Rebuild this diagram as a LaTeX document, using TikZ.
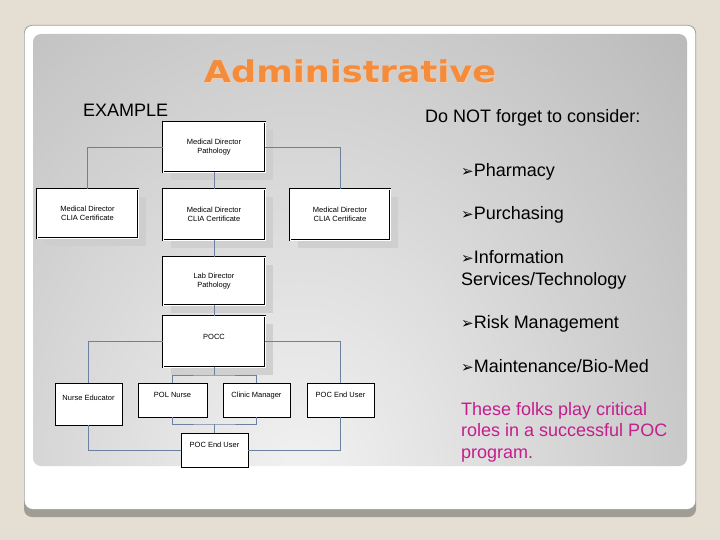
\documentclass[tikz,border=0pt]{standalone}
\usepackage{fontspec}
\setmainfont{Liberation Sans}
\newfontfamily\symfont{DejaVu Sans}
\newfontfamily\headfont{DejaVu Sans}
\usetikzlibrary{shadows}

\definecolor{slidebg}{RGB}{228,222,211}
\definecolor{cardedge}{RGB}{160,157,150}
\definecolor{panellight}{RGB}{242,242,242}
\definecolor{paneldark}{RGB}{165,165,165}
\definecolor{headorange}{RGB}{245,140,60}
\definecolor{linkblue}{RGB}{110,128,160}
\definecolor{boxshadow}{RGB}{206,206,206}
\definecolor{notemagenta}{RGB}{195,30,140}

\newcommand{\pointer}{{\symfont\fontsize{15}{15}\selectfont ➢}}

\tikzset{
  chartbox/.style={draw=black, double=white, double distance=0.9pt, line width=0.6pt,
    fill=white, align=center, font=\fontsize{7.5}{9}\selectfont,
    minimum width=102pt, minimum height=50pt, inner sep=0pt,
    drop shadow={shadow xshift=8pt, shadow yshift=-8pt, fill=boxshadow, opacity=0.9}},
  rolebox/.style={draw=black, line width=0.6pt, fill=white, font=\fontsize{7.5}{9}\selectfont,
    minimum width=67pt, inner sep=0pt, text height=14.7pt, text depth=19.3pt},
  link/.style={draw=linkblue, line width=0.8pt},
  bodytext/.style={anchor=base west, font=\fontsize{18}{21.5}\selectfont, align=left, inner sep=0pt},
}

\begin{document}
\begin{tikzpicture}[x=1pt, y=-1pt]
  \useasboundingbox (0,0) rectangle (720,540);
  \fill[slidebg] (0,0) rectangle (720,540);

  % slide card and shaded panel
  \fill[cardedge, rounded corners=8] (24,25) rectangle (696,517);
  \fill[white, rounded corners=8] (24.7,25.7) rectangle (695.3,509);
  \begin{scope}
    \clip[rounded corners=8] (33,34) rectangle (687,466);
    \shade[inner color=panellight, outer color=paneldark] (300,480) ellipse (720 and 920);
  \end{scope}

  % heading
  \node[font=\headfont\bfseries\fontsize{30}{30}\selectfont, text=headorange!45!white, anchor=base]
    at (351,84) {\scalebox{1.17}[1]{Administrative}};
  \node[font=\headfont\bfseries\fontsize{30}{30}\selectfont, text=headorange, anchor=base] (title)
    at (350,83) {\scalebox{1.17}[1]{Administrative}};
  \node[bodytext] (example) at (83,117) {EXAMPLE};

  % org chart
  \node[chartbox] (mdpath) at (214,147) {Medical Director\\Pathology};
  \node[chartbox, minimum width=101pt, minimum height=49pt] (cliaA) at (87.5,213.5) {Medical Director\\CLIA Certificate};
  \node[chartbox, minimum height=51pt] (cliaB) at (214,214.5) {Medical Director\\CLIA Certificate};
  \node[chartbox, minimum width=100pt, minimum height=51pt] (cliaC) at (340,214.5) {Medical Director\\CLIA Certificate};
  \node[chartbox, minimum height=48pt] (labdir) at (214,281) {Lab Director\\Pathology};
  \node[chartbox, minimum height=51pt, text height=23.7pt, text depth=27.3pt] (pocc) at (214,341.5) {POCC};

  \node[rolebox, text height=17.7pt, text depth=24.3pt] (nurseed) at (88.5,404) {Nurse Educator};
  \node[rolebox, minimum width=69pt] (polnurse) at (172.5,400) {POL Nurse};
  \node[rolebox] (clinic) at (256.5,400) {Clinic Manager};
  \node[rolebox] (enduserA) at (340.5,400) {POC End User};
  \node[rolebox] (enduserB) at (214.5,450) {POC End User};

  \coordinate (split) at (214,375);
  \coordinate (merge) at (214.5,424);

  \draw[link] (mdpath.west) -| (cliaA.north);
  \draw[link] (mdpath.east) -| (cliaC.north);
  \draw[link] (mdpath.south) -- (cliaB.north);
  \draw[link] (cliaB.south) -- (labdir.north);
  \draw[link] (labdir.south) -- (pocc.north);
  \draw[link] (pocc.west) -| (nurseed.north);
  \draw[link] (pocc.east) -| (enduserA.north);
  \draw[link] (pocc.south) -- (split);
  \draw[link] (polnurse.north) |- (split) -| (clinic.north);
  \draw[link] (nurseed.south) |- (enduserB.west);
  \draw[link] (enduserA.south) |- (enduserB.east);
  \draw[link] (polnurse.south) |- (merge) -| (clinic.south);
  \draw[link] (merge) -- (enduserB.north);

  % side notes (base = last line)
  \node[bodytext] (consider) at (425,123) {Do NOT forget to consider:};
  \node[bodytext] (pharmacy) at (461,177) {\pointer Pharmacy};
  \node[bodytext] (purchasing) at (461,220) {\pointer Purchasing};
  \node[bodytext] (infotech) at (461,285) {\pointer Information\\Services/Technology};
  \node[bodytext] (risk) at (461,328) {\pointer Risk Management};
  \node[bodytext] (biomed) at (461,372) {\pointer Maintenance/Bio-Med};
  \node[bodytext, text=notemagenta] (folks) at (461,458)
    {These folks play critical\\roles in a successful POC\\program.};
\end{tikzpicture}
\end{document}
